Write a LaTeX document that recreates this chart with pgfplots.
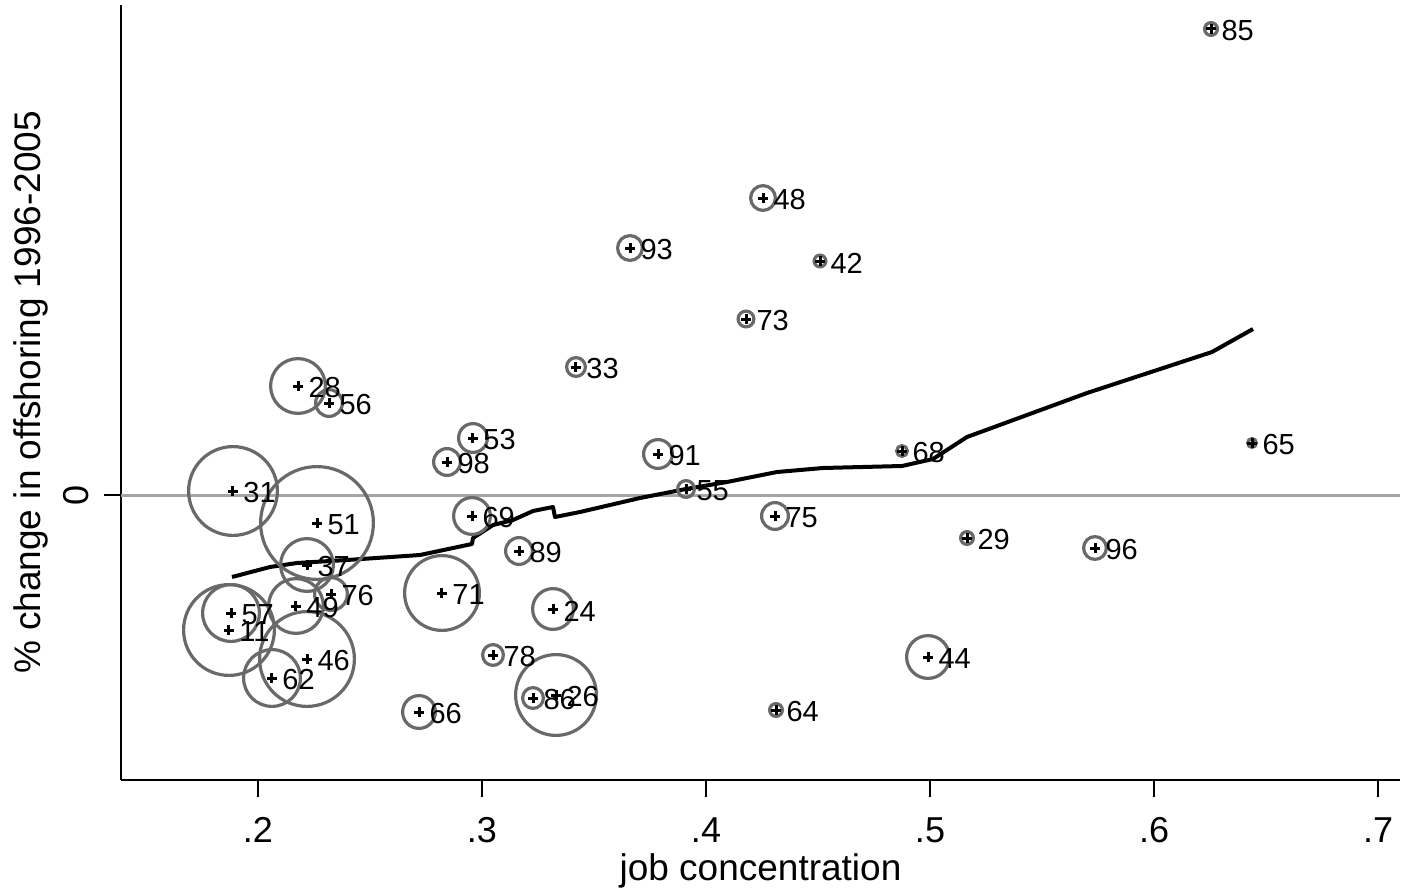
\documentclass[border=0pt]{standalone}
\usepackage{pgfplots}
\pgfplotsset{compat=1.18}
\usepackage{pgfplotstable}
\usepackage{fontspec}
\setmainfont{Liberation Sans}
\definecolor{ring}{RGB}{105,105,105}
\definecolor{zline}{RGB}{165,165,165}

\pgfplotstableread{
lab x y r
85 0.62545 4.66 8
48 0.42545 2.97 14
93 0.36607 2.47 14
42 0.45089 2.34 7.5
73 0.41786 1.76 9.5
33 0.34196 1.28 11
28 0.21786 1.09 29
56 0.23170 0.92 15
31 0.18884 0.04 46
51 0.22634 -0.28 58
37 0.22188 -0.70 28
57 0.18795 -1.18 30
11 0.18705 -1.35 47
49 0.21696 -1.11 29
76 0.23259 -0.99 18
46 0.22188 -1.64 49
62 0.20625 -1.83 30
53 0.29598 0.57 16
98 0.28438 0.33 15
69 0.29554 -0.21 20
89 0.31652 -0.56 15
71 0.28214 -0.98 39
24 0.33170 -1.14 22
78 0.30491 -1.60 12
86 0.32277 -2.03 12
26 0.33304 -2.00 42
66 0.27188 -2.17 18
91 0.37857 0.41 16
55 0.39107 0.06 10
75 0.43080 -0.21 15
68 0.48750 0.44 7
29 0.51652 -0.43 8
96 0.57366 -0.53 13
65 0.64375 0.52 6
44 0.49911 -1.62 23
64 0.43125 -2.15 8
}\pts

\pgfplotstableread{
x y
0.18840 -0.82
0.20536 -0.72
0.21741 -0.68
0.23973 -0.65
0.27232 -0.60
0.29554 -0.49
0.29598 -0.43
0.30491 -0.30
0.31384 -0.25
0.32277 -0.16
0.33170 -0.12
0.33259 -0.22
0.34375 -0.17
0.37054 -0.03
0.39107 0.06
0.40938 0.13
0.43170 0.23
0.45223 0.27
0.48750 0.29
0.50134 0.36
0.51652 0.58
0.57009 1.02
0.62589 1.43
0.64420 1.66
}\lowess

\begin{document}
\begin{tikzpicture}
\useasboundingbox (-60.5pt,-55.5pt) rectangle (644pt,390pt);
\begin{axis}[
  at={(0,0)}, anchor=south west,
  scale only axis, width=639.5pt, height=387.5pt,
  xmin=0.13884, xmax=0.70982, ymin=-2.85, ymax=4.90,
  axis x line*=bottom, axis y line*=left,
  axis line style={line width=0.75pt, black},
  xtick={0.2,0.3,0.4,0.5,0.6,0.7}, xticklabels={.2,.3,.4,.5,.6,.7},
  ytick={0}, yticklabels={0},
  tick align=outside, major tick length=8.5pt,
  tick style={black, line width=0.6pt},
  ticklabel style={font=\fontsize{18}{21}\selectfont},
  xticklabel style={anchor=center, yshift=-16.5pt},
  yticklabel style={rotate=90, anchor=center, yshift=14pt},
  xlabel={job concentration},
  ylabel={\% change in offshoring 1996-2005},
  label style={font=\fontsize{18.5}{22}\selectfont},
  xlabel style={at={(axis description cs:0.5,0)}, anchor=center, yshift=-45.5pt},
  ylabel style={at={(axis description cs:0,0.5)}, anchor=center, rotate=0, yshift=45pt},
  clip=false,
]
\addplot[zline, line width=1.5pt, forget plot] coordinates {(0.13884,0) (0.70982,0)};
\addplot[scatter, only marks, mark=o,
  scatter/use mapped color={draw=ring, fill=none},
  visualization depends on={\thisrow{r} \as \rr},
  scatter/@pre marker code/.append style={/tikz/mark size={0.5*\rr-0.8}},
  mark options={line width=1.6pt}] table[x=x,y=y] {\pts};
\addplot[only marks, mark=+, mark size=2.4pt, black, mark options={line width=1.5pt},
  point meta=explicit symbolic, nodes near coords,
  every node near coord/.style={font=\fontsize{14.5}{17}\selectfont, inner sep=0pt, anchor=west, xshift=4.5pt, yshift=-1pt, black}]
  table[x=x,y=y,meta=lab] {\pts};
\addplot[black, line width=2pt, line join=round] table[x=x,y=y] {\lowess};
\end{axis}
\end{tikzpicture}
\end{document}
